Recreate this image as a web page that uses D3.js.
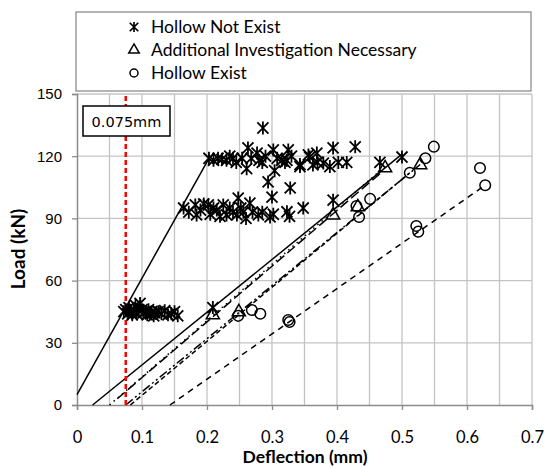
<!DOCTYPE html>
<html>
<head>
<meta charset="utf-8">
<script src="https://cdn.jsdelivr.net/npm/d3@7"></script>
<style>
  body { margin: 0; background: #fff; }
  svg { display: block; }
</style>
</head>
<body>
<div id="chart"></div>
<script>
// deflection (mm), load (kN)
var hollowNotExist = [
  [0.072,45],[0.075,46],[0.078,44],[0.080,47],[0.083,45],[0.085,43.5],[0.087,46],[0.090,48],
  [0.092,44],[0.095,45.5],[0.097,49],[0.100,46],[0.102,44.5],[0.105,45],[0.108,43.5],[0.110,46],
  [0.113,44],[0.115,45],[0.118,43],[0.120,44.5],[0.125,45],[0.130,44],[0.135,45.5],[0.140,43.5],
  [0.145,44],[0.150,45],[0.155,43],[0.209,47],
  [0.164,95],[0.172,93],[0.182,96.5],[0.184,91.7],[0.190,94],[0.195,97],[0.202,96.5],[0.205,92],
  [0.210,95],[0.215,94],[0.220,91],[0.225,96.5],[0.230,91.7],[0.235,95],[0.240,93],[0.246,91.7],
  [0.248,99.8],[0.252,95],[0.256,93],[0.260,90],[0.266,97.4],[0.270,93],[0.279,91.7],[0.285,93],
  [0.297,90.7],[0.302,92],[0.300,100.3],[0.294,107.6],[0.323,93.2],[0.328,104.7],[0.327,91],
  [0.348,95],[0.394,98.8],
  [0.203,119],[0.210,118],[0.217,119],[0.223,118.5],[0.230,118],[0.235,120],[0.240,119],[0.245,117],
  [0.254,119],[0.263,124],[0.261,114],[0.268,119],[0.277,121.5],[0.280,118],[0.285,117],[0.290,120],
  [0.302,123],[0.304,113],[0.308,119],[0.315,118],[0.325,123],[0.323,118],[0.320,117],[0.330,120],
  [0.343,115],[0.343,116],[0.356,120.6],[0.358,119.6],[0.363,115.8],[0.369,121.5],[0.370,117],
  [0.379,116.7],[0.389,115],[0.394,124],[0.402,117],[0.415,117],[0.428,124.5],[0.466,117],
  [0.500,119.6],[0.286,133.6]
];
var additionalInvestigation = [
  [0.209,43.4],[0.249,44.9],[0.394,91.6],[0.432,95.5],[0.474,114.3],[0.528,115.8]
];
var hollowExist = [
  [0.248,43],[0.269,45.8],[0.282,44],[0.325,41],[0.327,40],[0.430,96],[0.434,90.7],[0.451,99.4],
  [0.512,112],[0.536,119],[0.549,124.6],[0.620,114.3],[0.628,106],[0.522,86.3],[0.525,83.6]
];
// trend lines: [x0, y0, x1, y1]
var trendLines = [
  [0, 5, 0.203, 119],
  [0.024, 0, 0.5, 121],
  [0.062, 3, 0.469, 112.4],
  [0.05, 0, 0.47, 114],
  [0.075, 0, 0.528, 116],
  [0.082, 0, 0.512, 112],
  [0.143, 0, 0.628, 106]
];
var trendDash = ["", "", "10,4", "1.5,4", "9,3,2,3,2,3", "5,3", "6,5"];
var xTicks = [0, 0.1, 0.2, 0.3, 0.4, 0.5, 0.6, 0.7];
var yTicks = [0, 30, 60, 90, 120, 150];
var limitX = 0.075;
var legendLabels = ["Hollow Not Exist", "Additional Investigation Necessary", "Hollow Exist"];

var W = 544, H = 468;
var svg = d3.select("#chart").append("svg").attr("width", W).attr("height", H);

var x = d3.scaleLinear().domain([0, 0.7]).range([77, 532]);
var y = d3.scaleLinear().domain([0, 150]).range([405, 94]);

// grid
var grid = svg.append("g");
grid.selectAll("line.v").data(d3.range(1, 15).map(function(i){ return i * 0.05; }))
  .enter().append("line")
  .attr("x1", function(d){ return x(d); }).attr("x2", function(d){ return x(d); })
  .attr("y1", y(0)).attr("y2", y(150))
  .attr("stroke", "#c4c4c4").attr("stroke-width", 1.3);
grid.selectAll("line.h").data(yTicks.slice(1))
  .enter().append("line")
  .attr("x1", x(0)).attr("x2", x(0.7))
  .attr("y1", function(d){ return y(d); }).attr("y2", function(d){ return y(d); })
  .attr("stroke", "#c4c4c4").attr("stroke-width", 1.3);

// axes
var xAxis = svg.append("g").attr("transform", "translate(0," + y(0) + ")")
  .call(d3.axisBottom(x).tickValues(xTicks).tickSize(5).tickPadding(21)
    .tickFormat(function(d){ return d === 0 ? "0" : d3.format(".1f")(d); }));
var yAxis = svg.append("g").attr("transform", "translate(" + x(0) + ",0)")
  .call(d3.axisLeft(y).tickValues(yTicks).tickSize(5).tickPadding(10));
[xAxis, yAxis].forEach(function(a){
  a.select(".domain").attr("stroke", "#8c8c8c").attr("stroke-width", 1.5);
  a.selectAll(".tick line").attr("stroke", "#8c8c8c").attr("stroke-width", 1.3);
  a.selectAll(".tick text").attr("fill", "#000");
});
xAxis.selectAll(".tick text").attr("font-family", "Lato, 'Open Sans', sans-serif").attr("font-size", 16.5);
yAxis.selectAll(".tick text").attr("font-family", "'Liberation Sans', Arial, sans-serif").attr("font-size", 15);

svg.append("text").attr("x", 305).attr("y", 463).attr("text-anchor", "middle")
  .attr("font-family", "Lato, sans-serif").attr("font-weight", "bold").attr("font-size", 17.5)
  .text("Deflection (mm)");
svg.append("text").attr("transform", "translate(25,249) rotate(-90)").attr("text-anchor", "middle")
  .attr("font-family", "Lato, sans-serif").attr("font-weight", "bold").attr("font-size", 19)
  .text("Load (kN)");

// trend lines
var line = d3.line().x(function(d){ return x(d[0]); }).y(function(d){ return y(d[1]); });
svg.append("g").selectAll("path").data(trendLines).enter().append("path")
  .attr("d", function(d){ return line([[d[0], d[1]], [d[2], d[3]]]); })
  .attr("fill", "none").attr("stroke", "#000").attr("stroke-width", 1.5)
  .attr("stroke-dasharray", function(d, i){ return trendDash[i] || null; });

// red limit line
svg.append("line")
  .attr("x1", x(limitX)).attr("x2", x(limitX)).attr("y1", y(0)).attr("y2", y(150))
  .attr("stroke", "#ff0000").attr("stroke-width", 2.5).attr("stroke-dasharray", "5,3");

// markers
function starPath(s) {
  var d = s * 0.85;
  return "M0," + (-s) + "L0," + s + "M" + (-d) + "," + (-d) + "L" + d + "," + d +
    "M" + (-d) + "," + d + "L" + d + "," + (-d);
}
var triPath = d3.symbol().type(d3.symbolTriangle).size(75)();

svg.append("g").selectAll("path").data(hollowNotExist).enter().append("path")
  .attr("transform", function(d){ return "translate(" + x(d[0]) + "," + y(d[1]) + ")"; })
  .attr("d", starPath(6.5)).attr("stroke", "#000").attr("stroke-width", 1.8).attr("fill", "none");
svg.append("g").selectAll("path").data(additionalInvestigation).enter().append("path")
  .attr("transform", function(d){ return "translate(" + x(d[0]) + "," + y(d[1]) + ")"; })
  .attr("d", triPath).attr("stroke", "#000").attr("stroke-width", 1.5).attr("fill", "none");
svg.append("g").selectAll("circle").data(hollowExist).enter().append("circle")
  .attr("cx", function(d){ return x(d[0]); }).attr("cy", function(d){ return y(d[1]); })
  .attr("r", 5.3).attr("stroke", "#000").attr("stroke-width", 1.5).attr("fill", "none");

// 0.075mm label
var lab = svg.append("g");
lab.append("rect").attr("x", 83).attr("y", 106).attr("width", 87).attr("height", 30)
  .attr("fill", "#fff").attr("stroke", "#000").attr("stroke-width", 1.5);
lab.append("text").attr("x", 126.5).attr("y", 126.5).attr("text-anchor", "middle")
  .attr("font-family", "'DejaVu Sans', Verdana, sans-serif").attr("font-size", 14.5)
  .text(limitX + "mm");

// legend
var leg = svg.append("g");
leg.append("rect").attr("x", 76).attr("y", 12).attr("width", 455).attr("height", 79)
  .attr("fill", "#fff").attr("stroke", "#8c8c8c").attr("stroke-width", 1.3);
legendLabels.forEach(function(t, i){
  var ly = 27 + i * 23;
  var g = leg.append("g").attr("transform", "translate(134," + ly + ")");
  if (i === 0) g.append("path").attr("d", starPath(5)).attr("stroke", "#000").attr("stroke-width", 1.7);
  if (i === 1) g.append("path").attr("d", d3.symbol().type(d3.symbolTriangle).size(48)()).attr("fill", "none").attr("stroke", "#000").attr("stroke-width", 1.5);
  if (i === 2) g.append("circle").attr("r", 4).attr("fill", "none").attr("stroke", "#000").attr("stroke-width", 1.5);
  leg.append("text").attr("x", 151).attr("y", ly + 6).attr("font-family", "Lato, sans-serif")
    .attr("font-size", 17.5).attr("fill", "#000").text(t);
});
</script>
</body>
</html>
